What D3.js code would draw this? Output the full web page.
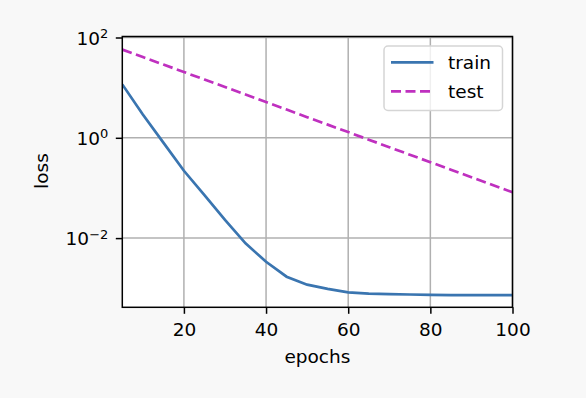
<!DOCTYPE html>
<html><head><meta charset="utf-8">
<script src="https://cdn.jsdelivr.net/npm/d3@7"></script>
<style>body{margin:0;background:#f8f8f8;} text{font-family:"DejaVu Sans",sans-serif;}</style>
</head><body><svg id="c" width="586" height="398"></svg>
<script>
const epochs = [5,10,15,20,25,30,35,40,45,50,55,60,65,70,75,80,85,90,95,100];
const train = [11.6,2.92,0.80,0.22,0.0716,0.0231,0.00785,0.00338,0.0017,0.00118,0.00097,0.00083,0.00078,0.00076,0.00075,0.00074,0.00073,0.00073,0.00073,0.00073];
const test = [57.5,40.7,28.9,20.5,14.5,10.3,7.27,5.15,3.65,2.58,1.83,1.30,0.917,0.650,0.460,0.326,0.231,0.164,0.116,0.082];
const xTicks = [20,40,60,80,100];
const yTicks = [2,0,-2];
const seriesNames = ["train","test"];

const FS = 18.5;
const svg = d3.select("#c");
svg.append("rect").attr("width",586).attr("height",398).attr("fill","#f8f8f8");
const L=122.3,R=512.5,T=36.5,B=307.3;
const x = d3.scaleLinear().domain([5,100]).range([L,R]);
const y = d3.scaleLog().domain([Math.pow(10,-3.38),Math.pow(10,2.02)]).range([B,T]);
svg.append("rect").attr("x",L).attr("y",T).attr("width",R-L).attr("height",B-T).attr("fill","#fff");
const g = svg.append("g");
g.selectAll(".gx").data(xTicks).join("line").attr("x1",d=>x(d)).attr("x2",d=>x(d)).attr("y1",T).attr("y2",B).attr("stroke","#b0b0b0").attr("stroke-width",1.5);
g.selectAll(".gy").data(yTicks).join("line").attr("x1",L).attr("x2",R).attr("y1",d=>y(Math.pow(10,d))).attr("y2",d=>y(Math.pow(10,d))).attr("stroke","#b0b0b0").attr("stroke-width",1.5);
const line = (arr)=>d3.line().x((d,i)=>x(epochs[i])).y(d=>y(d))(arr);
svg.append("clipPath").attr("id","cp").append("rect").attr("x",L).attr("y",T).attr("width",R-L).attr("height",B-T);
g.append("path").attr("d",line(train)).attr("fill","none").attr("stroke","#3a75b0").attr("stroke-width",2.7).attr("clip-path","url(#cp)");
g.append("path").attr("d",line(test)).attr("fill","none").attr("stroke","#bf30bf").attr("stroke-width",2.7).attr("stroke-dasharray","10,4.5").attr("clip-path","url(#cp)");
svg.append("rect").attr("x",L).attr("y",T).attr("width",R-L).attr("height",B-T).attr("fill","none").attr("stroke","#000").attr("stroke-width",1.5);
const xa = d3.axisBottom(x).tickValues(xTicks).tickSize(6.5).tickPadding(9);
const gx = svg.append("g").attr("transform",`translate(0,${B})`).call(xa);
gx.select(".domain").remove();
gx.selectAll("line").attr("stroke","#000").attr("stroke-width",1.5);
gx.selectAll("text").attr("font-size",FS).attr("fill","#000").attr("font-family","DejaVu Sans");
const ya = d3.axisLeft(y).tickValues(yTicks.map(d=>Math.pow(10,d))).tickSize(6.5).tickFormat("");
const gy = svg.append("g").attr("transform",`translate(${L},0)`).call(ya);
gy.select(".domain").remove();
gy.selectAll("line").attr("stroke","#000").attr("stroke-width",1.5);
gy.selectAll(".tick").each(function(d){
  const e = Math.round(Math.log10(d));
  const t = d3.select(this).append("text").attr("x",-14).attr("dy","0.36em").attr("text-anchor","end").attr("font-size",FS).attr("fill","#000");
  t.append("tspan").text("10");
  t.append("tspan").attr("dy","-0.5em").attr("font-size",13).text(e<0?"\u2212"+(-e):String(e));
});
svg.append("text").attr("x",(L+R)/2).attr("y",363).attr("text-anchor","middle").attr("font-size",FS).text("epochs");
svg.append("text").attr("transform",`translate(48,171) rotate(-90)`).attr("text-anchor","middle").attr("font-size",FS).text("loss");
const lg = svg.append("g");
lg.append("rect").attr("x",384).attr("y",46).attr("width",118.5).attr("height",64.5).attr("rx",4).attr("fill","#fff").attr("fill-opacity",0.8).attr("stroke","#d5d5d5").attr("stroke-width",1.5);
const lys=[62.3,91.3];
seriesNames.forEach((n,i)=>{
  lg.append("line").attr("x1",391).attr("x2",433.5).attr("y1",lys[i]).attr("y2",lys[i]).attr("stroke",i==0?"#3a75b0":"#bf30bf").attr("stroke-width",2.7).attr("stroke-dasharray",i==0?null:"10,4.5");
  lg.append("text").attr("x",448).attr("y",lys[i]).attr("dy","0.36em").attr("font-size",FS).text(n);
});
</script></body></html>
